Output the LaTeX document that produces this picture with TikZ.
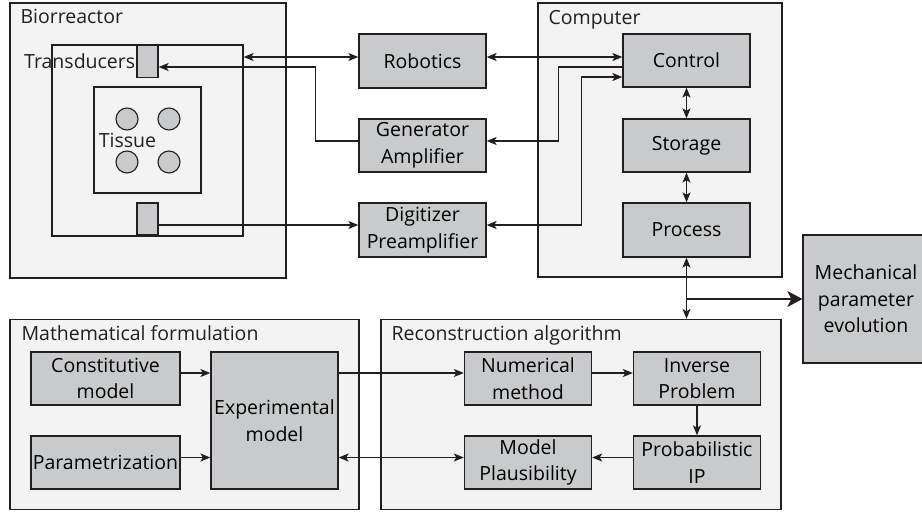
\documentclass[tikz,border=0pt]{standalone}
\usepackage{fontspec}
\setmainfont{Open Sans}
\usetikzlibrary{arrows.meta}
\definecolor{boxgray}{RGB}{201,202,203}
\definecolor{panelgray}{RGB}{243,243,243}
\definecolor{inkdark}{RGB}{35,31,32}
\begin{document}
\begin{tikzpicture}[x=1pt,y=-1pt,font=\fontsize{19.5}{26.5}\selectfont]
        \tikzset{panel/.style={draw=inkdark,fill=panelgray,line width=1.3pt,inner sep=0pt},
                 block/.style={draw=inkdark,fill=boxgray,line width=1.3pt,align=center,inner sep=0pt,minimum width=127pt,minimum height=#1},
                 block/.default=53pt,
                 sample/.style={draw=inkdark,fill=boxgray,circle,line width=1.1pt,minimum size=22pt,inner sep=0pt},
                 transducer/.style={draw=inkdark,fill=boxgray,line width=1.3pt,minimum width=21pt,minimum height=32pt,inner sep=0pt},
                 title/.style={anchor=base west,inner sep=0pt,text=inkdark},
                 link/.style={draw=inkdark,line width=1.2pt},
                 >={Stealth[length=10pt,width=8pt,inset=2.5pt]}}

        \useasboundingbox (0,0) rectangle (922,514);

        % Biorreactor
        \node[panel,minimum width=276pt,minimum height=275pt] (bio) at (148,140.5) {};
        \node[title] (biotitle) at ([xshift=11pt,yshift=-21pt]bio.north west) {Biorreactor};
        \node[panel,minimum width=191pt,minimum height=191pt] (chamber) at (147.5,140.5) {};
        \node[panel,minimum width=107pt,minimum height=106pt] (well) at (147.5,140) {};
        \foreach \cx/\cy [count=\i] in {127/119,169/119,127/162,169/162}
            \node[sample] (s\i) at (\cx,\cy) {};
        \node[inner sep=0pt,text=inkdark] (tissue) at (127.5,140) {Tissue};
        \node[transducer] (trtop) at (147.5,61.5) {};
        \node[transducer] (trbot) at (147.5,219) {};
        \node[anchor=east,inner sep=1pt,text=inkdark] (trlabel) at (trtop.west) {Transducers};

        % Hardware
        \node[block=54pt] (rob) at (422.5,61) {Robotics};
        \node[block] (gen) at (422.5,145.5) {Generator\\Amplifier};
        \node[block=54pt] (dig) at (422.5,230) {Digitizer\\Preamplifier};

        % Computer
        \node[panel,minimum width=244pt,minimum height=274pt] (comp) at (660,140) {};
        \node[title] (comptitle) at ([xshift=11pt,yshift=-22pt]comp.north west) {Computer};
        \node[block] (ctrl) at (686.5,60.5) {Control};
        \node[block] (stor) at (686.5,145.5) {Storage};
        \node[block=54pt] (proc) at (686.5,230) {Process};

        \node[block=128pt,minimum width=126pt] (mech) at (866,299) {Mechanical\\parameter\\evolution};

        % Mathematical formulation
        \node[panel,minimum width=349pt,minimum height=190pt] (math) at (184.5,414.5) {};
        \node[title] (mathtitle) at ([xshift=12pt,yshift=-22pt]math.north west) {Mathematical formulation};
        \node[block,minimum width=149pt] (const) at (105.5,378.5) {Constitutive\\model};
        \node[block,minimum width=149pt] (param) at (105.5,462.5) {Parametrization};
        \node[block=137pt] (exper) at (274.5,420.5) {Experimental\\model};

        % Reconstruction algorithm
        \node[panel,minimum width=400pt,minimum height=190pt] (recon) at (581,414.5) {};
        \node[title] (recontitle) at ([xshift=11pt,yshift=-22pt]recon.north west) {Reconstruction algorithm};
        \node[block] (num) at (528,378.5) {Numerical\\method};
        \node[block] (inv) at (697,378.5) {Inverse\\Problem};
        \node[block] (plaus) at (528,462.5) {Model\\Plausibility};
        \node[block] (prob) at (697,462.5) {Probabilistic\\IP};

        % connectors
        \draw[link,<->] ([yshift=4pt]rob.west -| chamber.east) -- ([yshift=4pt]rob.west);
        \draw[link,<->] ([yshift=4pt]rob.east) -- ([yshift=4pt]rob.east -| ctrl.west);
        \draw[link,->] ([yshift=4.5pt]gen.west) -- ++(-43,0) |- ([yshift=-5.5pt]trtop.east);
        \draw[link,->] ([yshift=-6.5pt]ctrl.west) -- ++(-64,0) |- ([yshift=4.5pt]gen.east);
        \draw[link,<->] ([yshift=5pt]dig.east) -- ++(95,0) |- ([yshift=-16.5pt]ctrl.west);
        \draw[link,->] ([yshift=-6pt]trbot.east) -- ([yshift=-6pt]trbot.east -| dig.west);
        \draw[link,<->] (ctrl.south) -- (stor.north);
        \draw[link,<->] (stor.south) -- (proc.north);
        \draw[link,<->] (proc.south) -- (proc.south |- recon.north);
        \draw[link,-{Stealth[length=15pt,width=16pt,inset=4pt]}] (proc.south |- mech.west) -- (mech.west);
        \draw[link,->] ([yshift=5.5pt]const.east) -- ([yshift=5.5pt]const.east -| exper.west);
        \draw[link,->] ([yshift=5pt]param.east) -- ([yshift=5pt]param.east -| exper.west);
        \draw[link,->] ([yshift=5.5pt]exper.east |- num.east) -- ([yshift=5.5pt]num.west);
        \draw[link,<->] ([yshift=5pt]exper.east |- plaus.west) -- ([yshift=5pt]plaus.west);
        \draw[link,->] ([yshift=5.5pt]num.east) -- ([yshift=5.5pt]inv.west);
        \draw[link,->] (inv.south) -- (prob.north);
        \draw[link,->] ([yshift=5pt]prob.west) -- ([yshift=5pt]plaus.east);
    \end{tikzpicture}
\end{document}
